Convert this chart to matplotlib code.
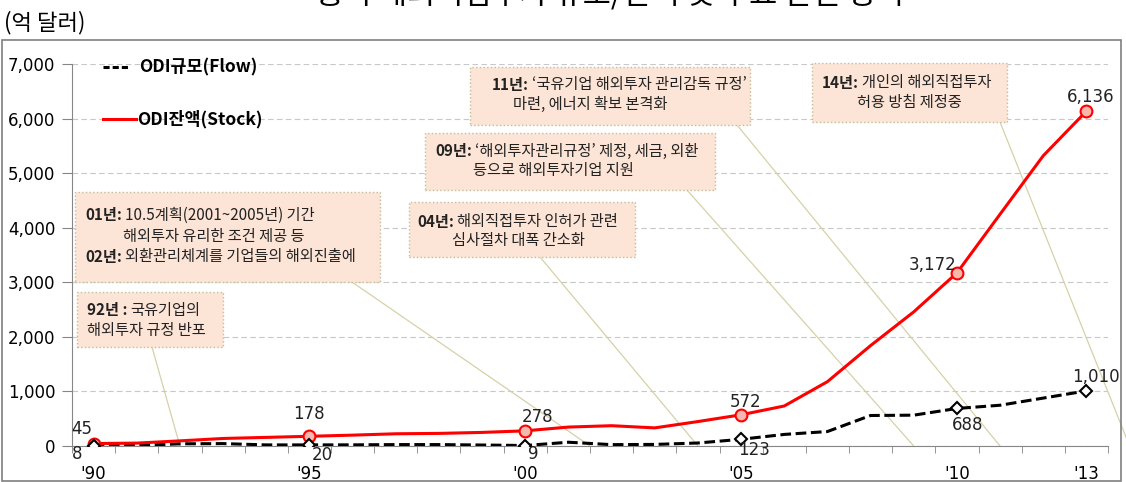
# =============================================================================
# China ODI flow / stock with policy notes
# =============================================================================
import matplotlib
matplotlib.use('Agg')
import matplotlib.pyplot as plt
import numpy as np
from matplotlib.patches import Rectangle, ConnectionPatch
from matplotlib.lines import Line2D

plt.rcParams['font.family'] = ['Noto Sans CJK KR', 'DejaVu Sans']

# =============================================================================
# Data (100 million USD)
# =============================================================================
years = list(range(1990, 2014))
flow = [8, 9, 40, 44, 20, 20, 21, 26, 26, 18, 9, 69, 25, 29, 55, 123,
        212, 265, 559, 565, 688, 747, 878, 1010]
stock = [45, 53, 94, 138, 158, 178, 199, 224, 231, 249, 278, 347, 372, 332,
         448, 572, 733, 1179, 1840, 2458, 3172, 4248, 5319, 6136]
label_years = [1990, 1995, 2000, 2005, 2010, 2013]
tick_labels = ["'90", "'95", "'00", "'05", "'10", "'13"]

note_92 = [('92년 :', '국유기업의'), ('', '해외투자 규정 반포')]
note_0102 = [('01년:', '10.5계획(2001~2005년) 기간'),
             ('', '해외투자 유리한 조건 제공 등'),
             ('02년:', '외환관리체계를 기업들의 해외진출에')]
note_04 = [('04년:', '해외직접투자 인허가 관련'), ('', '심사절차 대폭 간소화')]
note_09 = [('09년:', '‘해외투자관리규정’ 제정, 세금, 외환'), ('', '등으로 해외투자기업 지원')]
note_11 = [('11년:', '‘국유기업 해외투자 관리감독 규정’'), ('', '마련, 에너지 확보 본격화')]
note_14 = [('14년:', '개인의 해외직접투자'), ('', '허용 방침 제정중')]
note_targets = [1992, 2001.5, 2004, 2009, 2011, 2014]

# =============================================================================
# Figure and axes
# =============================================================================
W, H = 1126, 482
fig = plt.figure(figsize=(W / 100, H / 100), dpi=100)


def fx(x):
    return x / W


def fy(y):
    return 1 - y / H


ax = fig.add_axes([fx(72), fy(446), fx(1108) - fx(72), fy(64) - fy(446)])
ax.patch.set_visible(False)

x = np.arange(len(years))
ax.plot(x, flow, color='black', lw=2.2, ls=(0, (3.5, 1.5)), zorder=3)
ax.plot(x, stock, color='red', lw=2.2, zorder=3)

idx = [years.index(y) for y in label_years]
ax.plot(idx, [stock[i] for i in idx], 'o', ms=8.5, mfc='#F6B8AE', mec='red', mew=1.5, zorder=4)
ax.plot(idx, [flow[i] for i in idx], 'D', ms=6.5, mfc='white', mec='black', mew=1.5, zorder=4)

# value labels, offsets in pixels from the marker
stock_off = [(-12, 15), (0, 22), (12, 14), (4, 13), (-24, 8), (4, 14)]
flow_off = [(-16, -8), (13, -10), (8, -8), (13, -11), (11, -17), (10, 14)]
for i, o in zip(idx, stock_off):
    ax.annotate(f'{stock[i]:,}', (i, stock[i]), xytext=o, textcoords='offset pixels',
                ha='center', va='center', fontsize=12, family='DejaVu Sans', color='#222222', zorder=6)
for i, o in zip(idx, flow_off):
    ax.annotate(f'{flow[i]:,}', (i, flow[i]), xytext=o, textcoords='offset pixels',
                ha='center', va='center', fontsize=12, family='DejaVu Sans', color='#222222', zorder=6)

# =============================================================================
# Axes styling
# =============================================================================
ax.set_xlim(-0.5, len(years) - 0.5)
ax.set_ylim(0, 7000)
ax.set_yticks(range(0, 7001, 1000))
ax.set_yticklabels([f'{v:,}' for v in range(0, 7001, 1000)], family='DejaVu Sans', fontsize=12)
ax.set_xticks(idx)
ax.set_xticklabels(tick_labels, family='DejaVu Sans', fontsize=12)
ax.set_xticks(np.arange(-0.5, len(years), 1), minor=True)
ax.tick_params(axis='x', which='major', length=0, pad=14)
ax.tick_params(axis='x', which='minor', length=5, color='#868686')
ax.tick_params(axis='y', length=7, pad=5, color='#868686')
for s in ['top', 'right']:
    ax.spines[s].set_visible(False)
for s in ['left', 'bottom']:
    ax.spines[s].set_color('#868686')
ax.yaxis.grid(True, color='#C8C8C8', ls=(0, (5, 3)), lw=0.8)
ax.set_axisbelow(True)

# =============================================================================
# Legend, frame, titles
# =============================================================================
fig.add_artist(Line2D([fx(103), fx(128)], [fy(67), fy(67)], color='black', lw=2.2, ls=(0, (2, 1))))
fig.text(fx(139), fy(67), 'ODI규모(Flow)', va='center', fontsize=12.5, weight='bold')
fig.add_artist(Line2D([fx(103), fx(136)], [fy(119), fy(119)], color='red', lw=2.2))
fig.text(fx(137), fy(119), 'ODI잔액(Stock)', va='center', fontsize=12.5, weight='bold')

fig.add_artist(Rectangle((fx(2), fy(481)), fx(1121) - fx(2), fy(40) - fy(481),
                         transform=fig.transFigure, fill=False, ec='#7F7F7F', lw=1.2))
fig.text(fx(4), fy(23), '(억 달러)', va='center', fontsize=16)
fig.text(fx(610), fy(5), '< 중국 해외직접투자 규모/잔액 및 주요 관련 정책 >',
         ha='center', va='baseline', fontsize=22)

# =============================================================================
# Policy notes: box, text lines, connector to the x axis
# =============================================================================
notes = [note_92, note_0102, note_04, note_09, note_11, note_14]
boxes = [(77, 292, 223, 347), (75, 192, 380, 282), (409, 202, 635, 257),
         (425, 133, 715, 190), (470, 67, 750, 125), (812, 63, 1007, 122)]
line_pos = [[(87, 310), (87, 330)],
            [(85, 215), (123, 236), (85, 257)],
            [(417, 222), (452, 240)],
            [(435, 151), (473, 170)],
            [(492, 85), (513, 104)],
            [(822, 83), (857, 103)]]
conn_start = [(152, 347), (352, 282), (540, 257), (687, 190), (737, 125), (1000, 122)]

for note, (l, t, r, b), pos, st, tgt in zip(notes, boxes, line_pos, conn_start, note_targets):
    ax.add_patch(Rectangle((fx(l), fy(b)), fx(r) - fx(l), fy(t) - fy(b),
                           transform=fig.transFigure, clip_on=False,
                           fc='#FCE4D6', ec='#C4BD97', lw=1, ls=':', zorder=5))
    con = ConnectionPatch((fx(st[0]), fy(st[1])), (tgt - years[0], 0),
                          coordsA=fig.transFigure, coordsB=ax.transData,
                          color='#D6D1A8', lw=0.9, zorder=1)
    con.set_clip_on(False)
    ax.add_artist(con)
    for (head, body), (px, py) in zip(note, pos):
        if head:
            ht = ax.text(fx(px), fy(py), head, transform=fig.transFigure, va='center',
                         fontsize=11, weight='bold', color='#222222', zorder=6, clip_on=False)
            ax.annotate(body, xy=(1, 0.5), xycoords=ht, xytext=(3, 0), textcoords='offset pixels',
                        va='center', fontsize=11, color='#222222', zorder=6)
        else:
            ax.text(fx(px), fy(py), body, transform=fig.transFigure, va='center',
                    fontsize=11, color='#222222', zorder=6, clip_on=False)

fig.savefig('out.png', dpi=100)
